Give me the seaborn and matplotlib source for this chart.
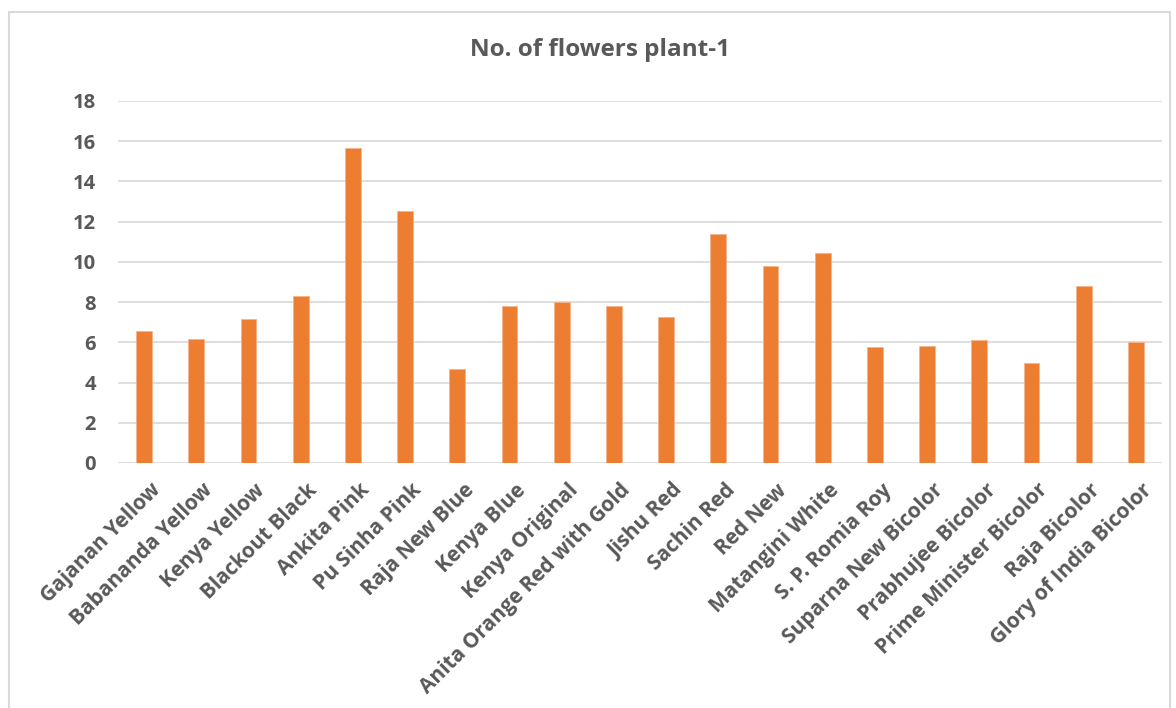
import matplotlib
matplotlib.use("Agg")
import matplotlib.pyplot as plt
import matplotlib.transforms as mtransforms
import seaborn as sns
import pandas as pd
from matplotlib.patches import Rectangle

categories = ["Gajanan Yellow", "Babananda Yellow", "Kenya Yellow", "Blackout Black",
              "Ankita Pink", "Pu Sinha Pink", "Raja New Blue", "Kenya Blue",
              "Kenya Original", "Anita Orange Red with Gold", "Jishu Red", "Sachin Red",
              "Red New", "Matangini White", "S. P. Romia Roy", "Suparna New Bicolor",
              "Prabhujee Bicolor", "Prime Minister Bicolor", "Raja Bicolor",
              "Glory of India Bicolor"]
values = [6.56, 6.18, 7.14, 8.28, 15.65, 12.53, 4.66, 7.83, 8.03, 7.83,
          7.27, 11.40, 9.82, 10.45, 5.75, 5.82, 6.13, 4.99, 8.79, 6.0]
y_ticks = [0, 2, 4, 6, 8, 10, 12, 14, 16, 18]
title = "No. of flowers plant-1"

sns.set_theme(style="white")
plt.rcParams['font.family'] = ['Open Sans', 'DejaVu Sans']

df = pd.DataFrame({"cat": categories, "val": values})

fig = plt.figure(figsize=(11.76, 7.08), dpi=100)
ax = fig.add_axes([118/1176, 1 - 463/708, (1162-118)/1176, (463-101)/708])

sns.barplot(data=df, x="cat", y="val", color="#ED7D31", saturation=1, width=0.3,
            edgecolor="#F5B48A", linewidth=0.6, ax=ax, zorder=3)

ax.set_ylim(0, 18)
ax.set_yticks(y_ticks)
ax.set_yticklabels([str(t) for t in y_ticks], fontsize=14.5, fontweight="bold", color="#595959")
ax.yaxis.grid(True, color="#D9D9D9", linewidth=1.2, zorder=0)
ax.xaxis.grid(False)
ax.set_axisbelow(True)
for s in ax.spines.values():
    s.set_visible(False)
ax.tick_params(axis="both", length=0)
ax.tick_params(axis="y", pad=16)
ax.tick_params(axis="x", pad=12)
ax.set_xlabel("")
ax.set_ylabel("")
ax.set_xticks(range(len(categories)))
ax.set_xticklabels(categories, rotation=45, ha="right", rotation_mode="anchor",
                   fontsize=15, fontweight="bold", color="#595959")
offset = mtransforms.ScaledTranslation(6/100, 0, fig.dpi_scale_trans)
for lbl in ax.get_xticklabels():
    lbl.set_transform(lbl.get_transform() + offset)
ax.set_xlim(-0.5, len(categories) - 0.5)

fig.text(600/1176, 1 - 50/708, title, ha="center", va="center", fontsize=17.5,
         fontweight="bold", color="#595959")

fig.patches.append(Rectangle((9/1176, -0.01), (1170-9)/1176, 1 - 12/708 + 0.01,
                             transform=fig.transFigure, fill=False,
                             edgecolor="#D9D9D9", linewidth=1.5))

fig.savefig("out.png", dpi=100)
